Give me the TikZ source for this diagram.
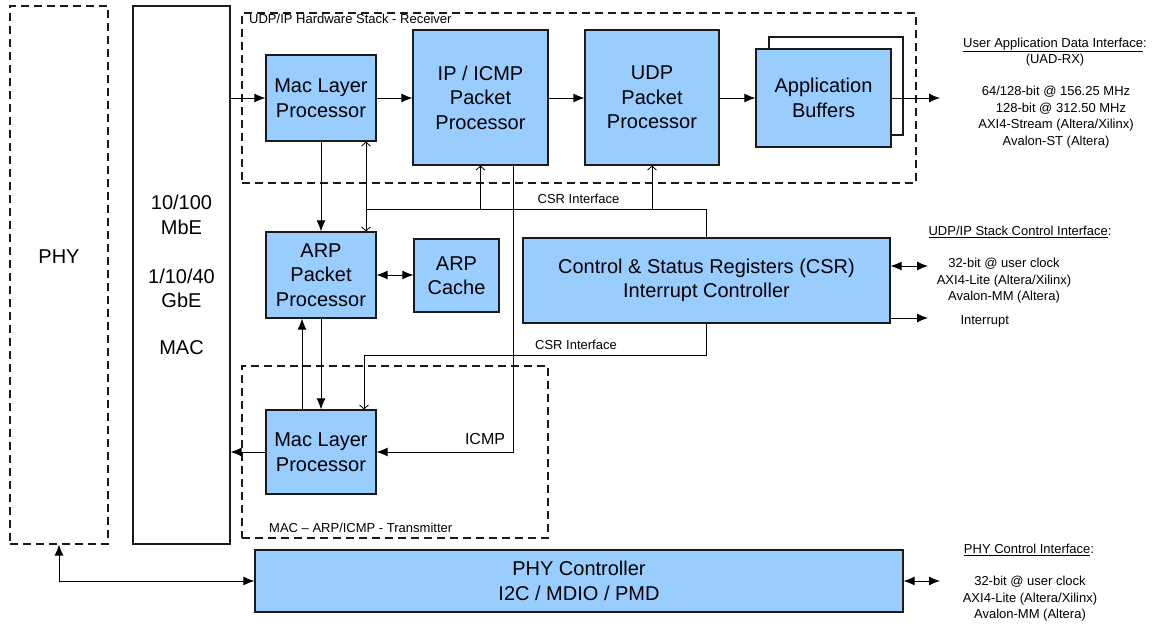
\documentclass[tikz,border=0pt]{standalone}
\usepackage{fontspec}
\setmainfont{Liberation Sans}
\usetikzlibrary{arrows.meta}

\definecolor{blockblue}{HTML}{99CCFF}
\definecolor{edgegray}{HTML}{1A1A1A}

\tikzset{
  big/.style={font=\fontsize{20}{24.5}\selectfont},
  small/.style={font=\fontsize{13}{16.5}\selectfont},
  block/.style={draw=edgegray, line width=1.2pt, fill=blockblue, inner sep=0pt,
                align=center, big},
  plainbox/.style={draw=edgegray, line width=1.1pt, inner sep=0pt, align=center, big},
  region/.style={draw=edgegray, line width=1.1pt, dash pattern=on 8pt off 5pt, inner sep=0pt},
  wire/.style={draw=black, line width=0.9pt},
  arr/.style={wire, -{Latex[length=11pt,width=9pt]}},
  dbl/.style={wire, {Latex[length=11pt,width=9pt]}-{Latex[length=11pt,width=9pt]}},
  barb/.style={wire, -{Straight Barb[length=4pt,width=9pt,line width=0.8pt]}},
}

\begin{document}
\begin{tikzpicture}[x=1pt,y=-1pt]
\useasboundingbox (0,0) rectangle (1157,624);

% outer PHY and MAC columns
\node[region, minimum width=98pt, minimum height=538pt] (phy) at (59,275) {};
\node[big] at (59,257) {PHY};
\node[plainbox, minimum width=97pt, minimum height=538pt] (mac) at (181.5,275) {};
\node[big, align=center] at (181.5,215) {10/100\\MbE};
\node[big, align=center] at (181.5,288.5) {1/10/40\\GbE};
\node[big] at (181.5,348) {MAC};

% receive path
\node[region, minimum width=674pt, minimum height=170pt] (rxbox) at (579,98) {};
\node[small, anchor=north west, inner sep=0pt] at (249,13.5) {UDP/IP Hardware Stack - Receiver};

\node[block, minimum width=110pt, minimum height=86pt] (mrx) at (321,98) {Mac Layer\\Processor};
\node[block, minimum width=135pt, minimum height=135pt] (ip) at (480.5,97.5) {IP / ICMP\\Packet\\Processor};
\node[block, minimum width=134pt, minimum height=135pt] (udp) at (652,97.5) {UDP\\Packet\\Processor};
\node[draw=edgegray, line width=1.1pt, fill=white, minimum width=134pt, minimum height=98pt, inner sep=0pt] (appback) at (836,86) {};
\node[block, minimum width=135pt, minimum height=98pt] (app) at (823.5,98) {Application\\Buffers};

% control blocks
\node[block, minimum width=110pt, minimum height=86pt] (arp) at (321,275) {ARP\\Packet\\Processor};
\node[block, minimum width=85pt, minimum height=73pt] (cache) at (456.5,275.5) {ARP\\Cache};
\node[block, minimum width=367pt, minimum height=85pt] (csr) at (706.5,280.5) {Control \& Status Registers (CSR)\\Interrupt Controller};

% transmit path
\node[region, minimum width=306pt, minimum height=172pt] (txbox) at (395,452) {};
\node[small, anchor=south west, inner sep=0pt] at (269,533) {MAC -- ARP/ICMP - Transmitter};
\node[block, minimum width=110pt, minimum height=84pt] (mtx) at (321,452) {Mac Layer\\Processor};

% PHY controller
\node[block, minimum width=648pt, minimum height=62pt] (phyc) at (579,581) {PHY Controller\\I2C / MDIO / PMD};

% free ends and junctions
\coordinate (uadout) at (940,98);
\coordinate (csrA) at (366,209);
\coordinate (csrC) at (364,355);
\coordinate (icmp) at (513,165);
\coordinate (csrio) at (928,266);
\coordinate (irq) at (928,318);
\coordinate (phyio) at (940,581);

% data flow, receive side
\draw[arr] (mac.east |- mrx.west) -- (mrx.west);
\draw[arr] (mrx.east) -- (mrx.east -| ip.west);
\draw[arr] (ip.east |- mrx.east) -- (mrx.east -| udp.west);
\draw[arr] (udp.east |- mrx.east) -- (mrx.east -| app.west);
\draw[arr] (app.east) -- (uadout);

% MAC RX to ARP
\draw[arr] (mrx.south) -- (arp.north);

% CSR interface bus (upper)
\draw[wire] (csr.north) |- (csrA);
\draw[barb] (csrA) -- (csrA |- mrx.south);
\draw[barb] (csrA) -- (csrA |- arp.north);
\draw[barb] (ip.south |- csrA) -- (ip.south);
\draw[barb] (udp.south |- csrA) -- (udp.south);
\node[small, anchor=south] at (578.5,207) {CSR Interface};

% ICMP reply path
\draw[arr] (icmp) |- (mtx.east);
\node[font=\fontsize{16}{19}\selectfont, anchor=base] at (485,444) {ICMP};

% ARP cache
\draw[dbl] (arp.east) -- (arp.east -| cache.west);

% CSR interface bus (lower)
\draw[barb] (csr.south) |- (csrC) -- (csrC |- mtx.north);
\node[small, anchor=south] at (576,353) {CSR Interface};

% ARP to / from MAC TX
\draw[arr] (arp.south) -- (mtx.north);
\draw[arr] ([xshift=-19pt]mtx.north) -- ([xshift=-19pt]arp.south);

% MAC TX out
\draw[arr] (mtx.west) -- (mtx.west -| mac.east);

% CSR external ports
\draw[dbl] (csrio -| csr.east) -- (csrio);
\draw[arr] (irq -| csr.east) -- (irq);

% PHY controller links
\draw[dbl] (phyc.west) -| (phy.south);
\draw[dbl] (phyc.east) -- (phyio);

% interface descriptions
\node[small, align=center] at (1055,52) {\underline{User Application Data Interface}:\\(UAD-RX)};
\node[small, align=center] at (1056,117) {64/128-bit @ 156.25 MHz\\\hspace*{10pt}128-bit @ 312.50 MHz\\AXI4-Stream (Altera/Xilinx)\\Avalon-ST (Altera)};

\node[small] at (1020,232) {\underline{UDP/IP Stack Control Interface}:};
\node[small, align=center] at (1004,281) {32-bit @ user clock\\AXI4-Lite (Altera/Xilinx)\\Avalon-MM (Altera)};
\node[small, anchor=west] at (957,321) {Interrupt};

\node[small] at (1029,550) {\underline{PHY Control Interface}:};
\node[small, align=center] at (1030,599) {32-bit @ user clock\\AXI4-Lite (Altera/Xilinx)\\Avalon-MM (Altera)};
\end{tikzpicture}
\end{document}
